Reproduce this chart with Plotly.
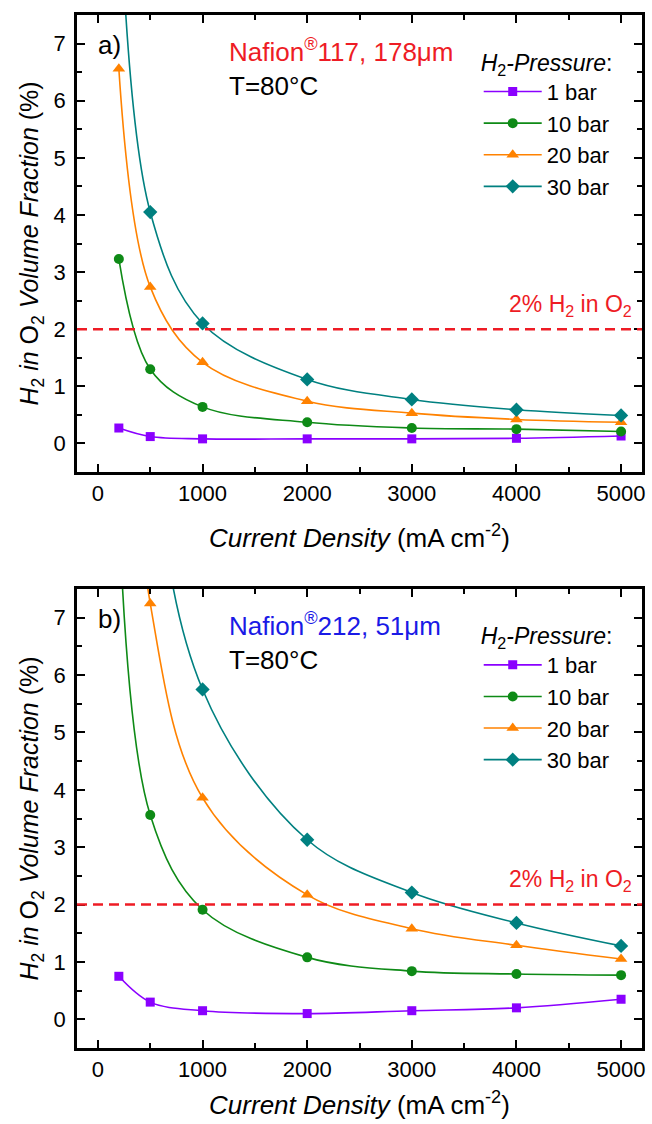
import plotly.graph_objects as go

# Current density sampling points (mA cm^-2)
current_density = [200, 500, 1000, 2000, 3000, 4000, 5000]

# H2 in O2 volume fraction (%) -- Nafion 117, 178 um
n117_1bar = [0.27, 0.12, 0.08, 0.08, 0.08, 0.09, 0.13]
n117_10bar = [3.23, 1.30, 0.64, 0.37, 0.27, 0.25, 0.21]
n117_20bar = [6.56, 2.74, 1.42, 0.74, 0.53, 0.42, 0.37]
n117_30bar = [10.0, 4.05, 2.10, 1.12, 0.77, 0.59, 0.49]

# H2 in O2 volume fraction (%) -- Nafion 212, 51 um
n212_1bar = [0.75, 0.30, 0.15, 0.10, 0.15, 0.20, 0.35]
n212_10bar = [8.9, 3.56, 1.91, 1.08, 0.84, 0.79, 0.77]
n212_20bar = [14.0, 7.25, 3.86, 2.17, 1.58, 1.29, 1.05]
n212_30bar = [23.0, 10.5, 5.75, 3.13, 2.21, 1.68, 1.28]

pressure_labels = ["1 bar", "10 bar", "20 bar", "30 bar"]
series_colors = ["#8A00FF", "#0E8A16", "#FF8200", "#008080"]
marker_symbols = ["square", "circle", "triangle-up", "diamond"]
marker_sizes = [9, 10, 11, 11]

limit_value = 2.0  # safety limit, 2 % H2 in O2

FONT = "Liberation Sans, Arial, sans-serif"

fig = go.Figure()

panels = [
    ([n117_1bar, n117_10bar, n117_20bar, n117_30bar], "x", "y", "legend"),
    ([n212_1bar, n212_10bar, n212_20bar, n212_30bar], "x2", "y2", "legend2"),
]

for series, xa, ya, lg in panels:
    for vals, name, col, sym, ms in zip(series, pressure_labels, series_colors,
                                         marker_symbols, marker_sizes):
        fig.add_trace(go.Scatter(
            x=current_density, y=vals, name=name,
            mode="lines+markers",
            line=dict(color=col, width=1.6, shape="spline", smoothing=1.0),
            marker=dict(symbol=sym, size=ms, color=col),
            xaxis=xa, yaxis=ya, legend=lg,
        ))

axis_common = dict(
    showline=True, linecolor="black", linewidth=2.6, mirror="ticks",
    ticks="inside", ticklen=8, tickwidth=2, tickcolor="black",
    showgrid=False, zeroline=False,
    tickfont=dict(family=FONT, size=22, color="black"),
)

xaxis_cfg = dict(
    axis_common, range=[-200, 5200], dtick=1000, tick0=0,
    minor=dict(ticks="inside", ticklen=5, tickwidth=2, dtick=500, tick0=0,
               tickcolor="black", showgrid=False),
)
x_title = "<i>Current Density</i> (mA cm<sup>-2</sup>)"
title_font = dict(family=FONT, size=26, color="black")

yaxis_cfg = dict(
    axis_common, range=[-0.5, 7.5], dtick=1, tick0=0,
    minor=dict(ticks="inside", ticklen=5, tickwidth=2, dtick=0.5, tick0=0,
               tickcolor="black", showgrid=False),
    title=dict(text="<i>H</i><sub>2</sub><i> in </i>O<sub>2</sub><i> Volume Fraction</i> (%)",
               font=dict(family=FONT, size=25, color="black"), standoff=8),
    ticklabelstandoff=4,
)

top_dom = [0.5576, 1.0]
bot_dom = [0.0, 0.4443]

fig.update_layout(
    width=652, height=1124,
    margin=dict(l=77, r=7, t=15, b=76),
    paper_bgcolor="white", plot_bgcolor="white",
    font=dict(family=FONT, size=22, color="black"),
    xaxis=dict(xaxis_cfg, anchor="y", domain=[0, 1],
               title=dict(text=x_title, font=title_font, standoff=24)),
    yaxis=dict(yaxis_cfg, anchor="x", domain=top_dom),
    xaxis2=dict(xaxis_cfg, anchor="y2", domain=[0, 1],
                title=dict(text=x_title, font=title_font, standoff=15)),
    yaxis2=dict(yaxis_cfg, anchor="x2", domain=bot_dom),
)

legend_cfg = dict(
    bgcolor="rgba(0,0,0,0)", borderwidth=0,
    font=dict(family=FONT, size=22, color="black"),
    title=dict(text="<i>H</i><sub>2</sub><i>-Pressure</i>:",
               font=dict(family=FONT, size=23, color="black")),
    xanchor="left", yanchor="top", itemwidth=58, tracegroupgap=0,
)
fig.update_layout(
    legend=dict(legend_cfg, x=0.711, y=0.975),
    legend2=dict(legend_cfg, x=0.711, y=0.420),
)

panel_texts = [
    ("x domain", "y domain", "x", "y", "a)", "Nafion<sup>®</sup>117, 178μm", "#EE1C25"),
    ("x2 domain", "y2 domain", "x2", "y2", "b)", "Nafion<sup>®</sup>212, 51μm", "#1A1AE6"),
]
for xd, yd, xa, ya, tag, memb, mcol in panel_texts:
    fig.add_annotation(xref=xd, yref=yd, x=0.033, y=0.934, text=tag, showarrow=False,
                       xanchor="left", yanchor="middle",
                       font=dict(family=FONT, size=26, color="black"))
    fig.add_annotation(xref=xd, yref=yd, x=0.266, y=0.922, text=memb, showarrow=False,
                       xanchor="left", yanchor="middle",
                       font=dict(family=FONT, size=26, color=mcol))
    fig.add_annotation(xref=xd, yref=yd, x=0.266, y=0.845, text="T=80°C", showarrow=False,
                       xanchor="left", yanchor="middle",
                       font=dict(family=FONT, size=26, color="black"))
    fig.add_annotation(xref=xd, yref=ya, x=0.985, y=limit_value, yshift=24,
                       text="2% H<sub>2</sub> in O<sub>2</sub>", showarrow=False,
                       xanchor="right", yanchor="middle",
                       font=dict(family=FONT, size=23, color="#EE1C25"))
    fig.add_shape(type="line", xref=xd, yref=ya, x0=0, x1=1,
                  y0=limit_value, y1=limit_value,
                  line=dict(color="#EE1C25", width=2.5, dash="10px,6px"))

fig.write_html("out.html")
